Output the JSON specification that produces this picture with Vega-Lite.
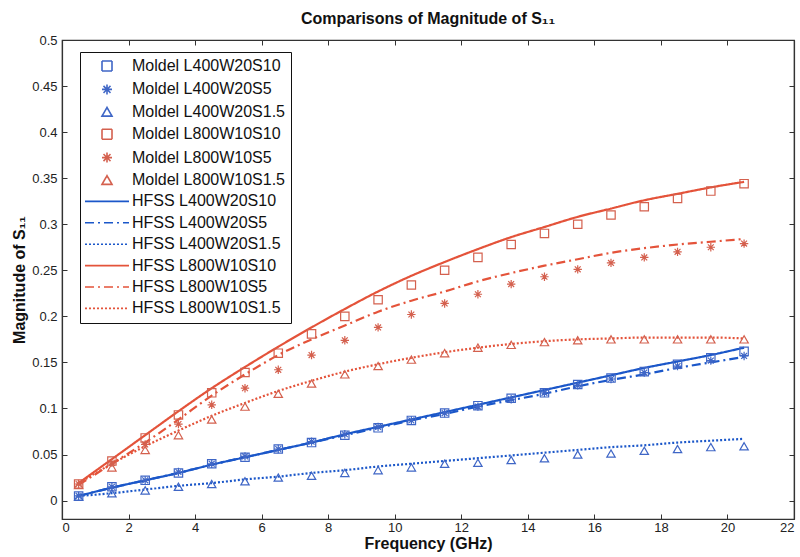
{
  "$schema": "https://vega.github.io/schema/vega-lite/v6.json",
  "width": 732,
  "height": 479,
  "autosize": "none",
  "padding": {"left": 62, "top": 40, "right": 6, "bottom": 38},
  "background": "white",
  "title": {
    "text": "Comparisons of Magnitude of S₁₁",
    "font": "Liberation Sans",
    "fontSize": 16,
    "fontWeight": "bold",
    "color": "#111",
    "offset": 7
  },
  "config": {
    "view": {"stroke": "#333", "strokeWidth": 1.2},
    "axis": {
      "grid": false,
      "labelFont": "Liberation Sans",
      "labelFontSize": 13,
      "labelColor": "#222",
      "titleFont": "Liberation Sans",
      "titleFontSize": 16,
      "titleFontWeight": "bold",
      "titleColor": "#111",
      "domainColor": "#333",
      "tickColor": "#333",
      "tickSize": -5,
      "domainWidth": 1.2
    },
    "legend": {
      "orient": "none",
      "legendX": 18,
      "legendY": 12,
      "fillColor": "white",
      "strokeColor": "#111",
      "padding": 6,
      "labelFont": "Liberation Sans",
      "labelFontSize": 16,
      "labelColor": "#111",
      "labelLimit": 300,
      "symbolOffset": 13,
      "labelOffset": 17,
      "rowPadding": 5.4,
      "symbolStrokeWidth": 1.6
    }
  },
  "datasets": {
    "model": [
      {"s": "Moldel L400W20S10", "f": 0.5, "v": 0.005}, {"s": "Moldel L400W20S10", "f": 1.5, "v": 0.015}, {"s": "Moldel L400W20S10", "f": 2.5, "v": 0.022}, {"s": "Moldel L400W20S10", "f": 3.5, "v": 0.030}, {"s": "Moldel L400W20S10", "f": 4.5, "v": 0.040}, {"s": "Moldel L400W20S10", "f": 5.5, "v": 0.047}, {"s": "Moldel L400W20S10", "f": 6.5, "v": 0.056}, {"s": "Moldel L400W20S10", "f": 7.5, "v": 0.063}, {"s": "Moldel L400W20S10", "f": 8.5, "v": 0.071}, {"s": "Moldel L400W20S10", "f": 9.5, "v": 0.079}, {"s": "Moldel L400W20S10", "f": 10.5, "v": 0.087}, {"s": "Moldel L400W20S10", "f": 11.5, "v": 0.095}, {"s": "Moldel L400W20S10", "f": 12.5, "v": 0.103}, {"s": "Moldel L400W20S10", "f": 13.5, "v": 0.111}, {"s": "Moldel L400W20S10", "f": 14.5, "v": 0.117}, {"s": "Moldel L400W20S10", "f": 15.5, "v": 0.126}, {"s": "Moldel L400W20S10", "f": 16.5, "v": 0.133}, {"s": "Moldel L400W20S10", "f": 17.5, "v": 0.140}, {"s": "Moldel L400W20S10", "f": 18.5, "v": 0.148}, {"s": "Moldel L400W20S10", "f": 19.5, "v": 0.155}, {"s": "Moldel L400W20S10", "f": 20.5, "v": 0.162},
      {"s": "Moldel L400W20S5", "f": 0.5, "v": 0.005}, {"s": "Moldel L400W20S5", "f": 1.5, "v": 0.015}, {"s": "Moldel L400W20S5", "f": 2.5, "v": 0.022}, {"s": "Moldel L400W20S5", "f": 3.5, "v": 0.031}, {"s": "Moldel L400W20S5", "f": 4.5, "v": 0.040}, {"s": "Moldel L400W20S5", "f": 5.5, "v": 0.048}, {"s": "Moldel L400W20S5", "f": 6.5, "v": 0.056}, {"s": "Moldel L400W20S5", "f": 7.5, "v": 0.064}, {"s": "Moldel L400W20S5", "f": 8.5, "v": 0.072}, {"s": "Moldel L400W20S5", "f": 9.5, "v": 0.080}, {"s": "Moldel L400W20S5", "f": 10.5, "v": 0.087}, {"s": "Moldel L400W20S5", "f": 11.5, "v": 0.095}, {"s": "Moldel L400W20S5", "f": 12.5, "v": 0.102}, {"s": "Moldel L400W20S5", "f": 13.5, "v": 0.110}, {"s": "Moldel L400W20S5", "f": 14.5, "v": 0.117}, {"s": "Moldel L400W20S5", "f": 15.5, "v": 0.125}, {"s": "Moldel L400W20S5", "f": 16.5, "v": 0.132}, {"s": "Moldel L400W20S5", "f": 17.5, "v": 0.139}, {"s": "Moldel L400W20S5", "f": 18.5, "v": 0.146}, {"s": "Moldel L400W20S5", "f": 19.5, "v": 0.152}, {"s": "Moldel L400W20S5", "f": 20.5, "v": 0.157},
      {"s": "Moldel L400W20S1.5", "f": 0.5, "v": 0.004}, {"s": "Moldel L400W20S1.5", "f": 1.5, "v": 0.008}, {"s": "Moldel L400W20S1.5", "f": 2.5, "v": 0.011}, {"s": "Moldel L400W20S1.5", "f": 3.5, "v": 0.015}, {"s": "Moldel L400W20S1.5", "f": 4.5, "v": 0.018}, {"s": "Moldel L400W20S1.5", "f": 5.5, "v": 0.021}, {"s": "Moldel L400W20S1.5", "f": 6.5, "v": 0.025}, {"s": "Moldel L400W20S1.5", "f": 7.5, "v": 0.027}, {"s": "Moldel L400W20S1.5", "f": 8.5, "v": 0.030}, {"s": "Moldel L400W20S1.5", "f": 9.5, "v": 0.033}, {"s": "Moldel L400W20S1.5", "f": 10.5, "v": 0.036}, {"s": "Moldel L400W20S1.5", "f": 11.5, "v": 0.040}, {"s": "Moldel L400W20S1.5", "f": 12.5, "v": 0.041}, {"s": "Moldel L400W20S1.5", "f": 13.5, "v": 0.044}, {"s": "Moldel L400W20S1.5", "f": 14.5, "v": 0.046}, {"s": "Moldel L400W20S1.5", "f": 15.5, "v": 0.050}, {"s": "Moldel L400W20S1.5", "f": 16.5, "v": 0.051}, {"s": "Moldel L400W20S1.5", "f": 17.5, "v": 0.054}, {"s": "Moldel L400W20S1.5", "f": 18.5, "v": 0.056}, {"s": "Moldel L400W20S1.5", "f": 19.5, "v": 0.058}, {"s": "Moldel L400W20S1.5", "f": 20.5, "v": 0.059},
      {"s": "Moldel L800W10S10", "f": 0.5, "v": 0.018}, {"s": "Moldel L800W10S10", "f": 1.5, "v": 0.043}, {"s": "Moldel L800W10S10", "f": 2.5, "v": 0.068}, {"s": "Moldel L800W10S10", "f": 3.5, "v": 0.093}, {"s": "Moldel L800W10S10", "f": 4.5, "v": 0.117}, {"s": "Moldel L800W10S10", "f": 5.5, "v": 0.139}, {"s": "Moldel L800W10S10", "f": 6.5, "v": 0.160}, {"s": "Moldel L800W10S10", "f": 7.5, "v": 0.181}, {"s": "Moldel L800W10S10", "f": 8.5, "v": 0.200}, {"s": "Moldel L800W10S10", "f": 9.5, "v": 0.218}, {"s": "Moldel L800W10S10", "f": 10.5, "v": 0.234}, {"s": "Moldel L800W10S10", "f": 11.5, "v": 0.250}, {"s": "Moldel L800W10S10", "f": 12.5, "v": 0.264}, {"s": "Moldel L800W10S10", "f": 13.5, "v": 0.278}, {"s": "Moldel L800W10S10", "f": 14.5, "v": 0.290}, {"s": "Moldel L800W10S10", "f": 15.5, "v": 0.300}, {"s": "Moldel L800W10S10", "f": 16.5, "v": 0.310}, {"s": "Moldel L800W10S10", "f": 17.5, "v": 0.319}, {"s": "Moldel L800W10S10", "f": 18.5, "v": 0.328}, {"s": "Moldel L800W10S10", "f": 19.5, "v": 0.336}, {"s": "Moldel L800W10S10", "f": 20.5, "v": 0.344},
      {"s": "Moldel L800W10S5", "f": 0.5, "v": 0.018}, {"s": "Moldel L800W10S5", "f": 1.5, "v": 0.041}, {"s": "Moldel L800W10S5", "f": 2.5, "v": 0.061}, {"s": "Moldel L800W10S5", "f": 3.5, "v": 0.083}, {"s": "Moldel L800W10S5", "f": 4.5, "v": 0.104}, {"s": "Moldel L800W10S5", "f": 5.5, "v": 0.122}, {"s": "Moldel L800W10S5", "f": 6.5, "v": 0.142}, {"s": "Moldel L800W10S5", "f": 7.5, "v": 0.158}, {"s": "Moldel L800W10S5", "f": 8.5, "v": 0.174}, {"s": "Moldel L800W10S5", "f": 9.5, "v": 0.188}, {"s": "Moldel L800W10S5", "f": 10.5, "v": 0.202}, {"s": "Moldel L800W10S5", "f": 11.5, "v": 0.214}, {"s": "Moldel L800W10S5", "f": 12.5, "v": 0.224}, {"s": "Moldel L800W10S5", "f": 13.5, "v": 0.235}, {"s": "Moldel L800W10S5", "f": 14.5, "v": 0.243}, {"s": "Moldel L800W10S5", "f": 15.5, "v": 0.251}, {"s": "Moldel L800W10S5", "f": 16.5, "v": 0.258}, {"s": "Moldel L800W10S5", "f": 17.5, "v": 0.264}, {"s": "Moldel L800W10S5", "f": 18.5, "v": 0.270}, {"s": "Moldel L800W10S5", "f": 19.5, "v": 0.275}, {"s": "Moldel L800W10S5", "f": 20.5, "v": 0.279},
      {"s": "Moldel L800W10S1.5", "f": 0.5, "v": 0.017}, {"s": "Moldel L800W10S1.5", "f": 1.5, "v": 0.036}, {"s": "Moldel L800W10S1.5", "f": 2.5, "v": 0.055}, {"s": "Moldel L800W10S1.5", "f": 3.5, "v": 0.071}, {"s": "Moldel L800W10S1.5", "f": 4.5, "v": 0.088}, {"s": "Moldel L800W10S1.5", "f": 5.5, "v": 0.102}, {"s": "Moldel L800W10S1.5", "f": 6.5, "v": 0.116}, {"s": "Moldel L800W10S1.5", "f": 7.5, "v": 0.127}, {"s": "Moldel L800W10S1.5", "f": 8.5, "v": 0.137}, {"s": "Moldel L800W10S1.5", "f": 9.5, "v": 0.146}, {"s": "Moldel L800W10S1.5", "f": 10.5, "v": 0.153}, {"s": "Moldel L800W10S1.5", "f": 11.5, "v": 0.160}, {"s": "Moldel L800W10S1.5", "f": 12.5, "v": 0.166}, {"s": "Moldel L800W10S1.5", "f": 13.5, "v": 0.169}, {"s": "Moldel L800W10S1.5", "f": 14.5, "v": 0.172}, {"s": "Moldel L800W10S1.5", "f": 15.5, "v": 0.174}, {"s": "Moldel L800W10S1.5", "f": 16.5, "v": 0.175}, {"s": "Moldel L800W10S1.5", "f": 17.5, "v": 0.175}, {"s": "Moldel L800W10S1.5", "f": 18.5, "v": 0.175}, {"s": "Moldel L800W10S1.5", "f": 19.5, "v": 0.175}, {"s": "Moldel L800W10S1.5", "f": 20.5, "v": 0.175}
    ],
    "hfss": [
      {"s": "HFSS L400W20S10", "f": 0.5, "v": 0.005}, {"s": "HFSS L400W20S10", "f": 1.5, "v": 0.014}, {"s": "HFSS L400W20S10", "f": 2.5, "v": 0.022}, {"s": "HFSS L400W20S10", "f": 3.5, "v": 0.030}, {"s": "HFSS L400W20S10", "f": 4.5, "v": 0.039}, {"s": "HFSS L400W20S10", "f": 5.5, "v": 0.047}, {"s": "HFSS L400W20S10", "f": 6.5, "v": 0.055}, {"s": "HFSS L400W20S10", "f": 7.5, "v": 0.063}, {"s": "HFSS L400W20S10", "f": 8.5, "v": 0.072}, {"s": "HFSS L400W20S10", "f": 9.5, "v": 0.080}, {"s": "HFSS L400W20S10", "f": 10.5, "v": 0.088}, {"s": "HFSS L400W20S10", "f": 11.5, "v": 0.096}, {"s": "HFSS L400W20S10", "f": 12.5, "v": 0.104}, {"s": "HFSS L400W20S10", "f": 13.5, "v": 0.112}, {"s": "HFSS L400W20S10", "f": 14.5, "v": 0.120}, {"s": "HFSS L400W20S10", "f": 15.5, "v": 0.128}, {"s": "HFSS L400W20S10", "f": 16.5, "v": 0.136}, {"s": "HFSS L400W20S10", "f": 17.5, "v": 0.144}, {"s": "HFSS L400W20S10", "f": 18.5, "v": 0.151}, {"s": "HFSS L400W20S10", "f": 19.5, "v": 0.158}, {"s": "HFSS L400W20S10", "f": 20.5, "v": 0.166},
      {"s": "HFSS L400W20S5", "f": 0.5, "v": 0.005}, {"s": "HFSS L400W20S5", "f": 1.5, "v": 0.014}, {"s": "HFSS L400W20S5", "f": 2.5, "v": 0.022}, {"s": "HFSS L400W20S5", "f": 3.5, "v": 0.030}, {"s": "HFSS L400W20S5", "f": 4.5, "v": 0.039}, {"s": "HFSS L400W20S5", "f": 5.5, "v": 0.047}, {"s": "HFSS L400W20S5", "f": 6.5, "v": 0.055}, {"s": "HFSS L400W20S5", "f": 7.5, "v": 0.063}, {"s": "HFSS L400W20S5", "f": 8.5, "v": 0.071}, {"s": "HFSS L400W20S5", "f": 9.5, "v": 0.079}, {"s": "HFSS L400W20S5", "f": 10.5, "v": 0.087}, {"s": "HFSS L400W20S5", "f": 11.5, "v": 0.094}, {"s": "HFSS L400W20S5", "f": 12.5, "v": 0.102}, {"s": "HFSS L400W20S5", "f": 13.5, "v": 0.109}, {"s": "HFSS L400W20S5", "f": 14.5, "v": 0.116}, {"s": "HFSS L400W20S5", "f": 15.5, "v": 0.124}, {"s": "HFSS L400W20S5", "f": 16.5, "v": 0.131}, {"s": "HFSS L400W20S5", "f": 17.5, "v": 0.137}, {"s": "HFSS L400W20S5", "f": 18.5, "v": 0.144}, {"s": "HFSS L400W20S5", "f": 19.5, "v": 0.150}, {"s": "HFSS L400W20S5", "f": 20.5, "v": 0.156},
      {"s": "HFSS L400W20S1.5", "f": 0.5, "v": 0.005}, {"s": "HFSS L400W20S1.5", "f": 1.5, "v": 0.008}, {"s": "HFSS L400W20S1.5", "f": 2.5, "v": 0.012}, {"s": "HFSS L400W20S1.5", "f": 3.5, "v": 0.016}, {"s": "HFSS L400W20S1.5", "f": 4.5, "v": 0.019}, {"s": "HFSS L400W20S1.5", "f": 5.5, "v": 0.023}, {"s": "HFSS L400W20S1.5", "f": 6.5, "v": 0.026}, {"s": "HFSS L400W20S1.5", "f": 7.5, "v": 0.030}, {"s": "HFSS L400W20S1.5", "f": 8.5, "v": 0.033}, {"s": "HFSS L400W20S1.5", "f": 9.5, "v": 0.037}, {"s": "HFSS L400W20S1.5", "f": 10.5, "v": 0.040}, {"s": "HFSS L400W20S1.5", "f": 11.5, "v": 0.043}, {"s": "HFSS L400W20S1.5", "f": 12.5, "v": 0.046}, {"s": "HFSS L400W20S1.5", "f": 13.5, "v": 0.049}, {"s": "HFSS L400W20S1.5", "f": 14.5, "v": 0.052}, {"s": "HFSS L400W20S1.5", "f": 15.5, "v": 0.055}, {"s": "HFSS L400W20S1.5", "f": 16.5, "v": 0.058}, {"s": "HFSS L400W20S1.5", "f": 17.5, "v": 0.060}, {"s": "HFSS L400W20S1.5", "f": 18.5, "v": 0.063}, {"s": "HFSS L400W20S1.5", "f": 19.5, "v": 0.065}, {"s": "HFSS L400W20S1.5", "f": 20.5, "v": 0.067},
      {"s": "HFSS L800W10S10", "f": 0.5, "v": 0.019}, {"s": "HFSS L800W10S10", "f": 1.5, "v": 0.045}, {"s": "HFSS L800W10S10", "f": 2.5, "v": 0.071}, {"s": "HFSS L800W10S10", "f": 3.5, "v": 0.097}, {"s": "HFSS L800W10S10", "f": 4.5, "v": 0.122}, {"s": "HFSS L800W10S10", "f": 5.5, "v": 0.145}, {"s": "HFSS L800W10S10", "f": 6.5, "v": 0.167}, {"s": "HFSS L800W10S10", "f": 7.5, "v": 0.188}, {"s": "HFSS L800W10S10", "f": 8.5, "v": 0.208}, {"s": "HFSS L800W10S10", "f": 9.5, "v": 0.227}, {"s": "HFSS L800W10S10", "f": 10.5, "v": 0.244}, {"s": "HFSS L800W10S10", "f": 11.5, "v": 0.259}, {"s": "HFSS L800W10S10", "f": 12.5, "v": 0.273}, {"s": "HFSS L800W10S10", "f": 13.5, "v": 0.286}, {"s": "HFSS L800W10S10", "f": 14.5, "v": 0.297}, {"s": "HFSS L800W10S10", "f": 15.5, "v": 0.308}, {"s": "HFSS L800W10S10", "f": 16.5, "v": 0.317}, {"s": "HFSS L800W10S10", "f": 17.5, "v": 0.326}, {"s": "HFSS L800W10S10", "f": 18.5, "v": 0.333}, {"s": "HFSS L800W10S10", "f": 19.5, "v": 0.340}, {"s": "HFSS L800W10S10", "f": 20.5, "v": 0.346},
      {"s": "HFSS L800W10S5", "f": 0.5, "v": 0.017}, {"s": "HFSS L800W10S5", "f": 1.5, "v": 0.040}, {"s": "HFSS L800W10S5", "f": 2.5, "v": 0.063}, {"s": "HFSS L800W10S5", "f": 3.5, "v": 0.088}, {"s": "HFSS L800W10S5", "f": 4.5, "v": 0.114}, {"s": "HFSS L800W10S5", "f": 5.5, "v": 0.137}, {"s": "HFSS L800W10S5", "f": 6.5, "v": 0.158}, {"s": "HFSS L800W10S5", "f": 7.5, "v": 0.175}, {"s": "HFSS L800W10S5", "f": 8.5, "v": 0.190}, {"s": "HFSS L800W10S5", "f": 9.5, "v": 0.205}, {"s": "HFSS L800W10S5", "f": 10.5, "v": 0.217}, {"s": "HFSS L800W10S5", "f": 11.5, "v": 0.227}, {"s": "HFSS L800W10S5", "f": 12.5, "v": 0.238}, {"s": "HFSS L800W10S5", "f": 13.5, "v": 0.247}, {"s": "HFSS L800W10S5", "f": 14.5, "v": 0.255}, {"s": "HFSS L800W10S5", "f": 15.5, "v": 0.262}, {"s": "HFSS L800W10S5", "f": 16.5, "v": 0.269}, {"s": "HFSS L800W10S5", "f": 17.5, "v": 0.274}, {"s": "HFSS L800W10S5", "f": 18.5, "v": 0.278}, {"s": "HFSS L800W10S5", "f": 19.5, "v": 0.281}, {"s": "HFSS L800W10S5", "f": 20.5, "v": 0.284},
      {"s": "HFSS L800W10S1.5", "f": 0.5, "v": 0.019}, {"s": "HFSS L800W10S1.5", "f": 1.5, "v": 0.040}, {"s": "HFSS L800W10S1.5", "f": 2.5, "v": 0.059}, {"s": "HFSS L800W10S1.5", "f": 3.5, "v": 0.076}, {"s": "HFSS L800W10S1.5", "f": 4.5, "v": 0.092}, {"s": "HFSS L800W10S1.5", "f": 5.5, "v": 0.106}, {"s": "HFSS L800W10S1.5", "f": 6.5, "v": 0.119}, {"s": "HFSS L800W10S1.5", "f": 7.5, "v": 0.130}, {"s": "HFSS L800W10S1.5", "f": 8.5, "v": 0.140}, {"s": "HFSS L800W10S1.5", "f": 9.5, "v": 0.148}, {"s": "HFSS L800W10S1.5", "f": 10.5, "v": 0.155}, {"s": "HFSS L800W10S1.5", "f": 11.5, "v": 0.161}, {"s": "HFSS L800W10S1.5", "f": 12.5, "v": 0.166}, {"s": "HFSS L800W10S1.5", "f": 13.5, "v": 0.170}, {"s": "HFSS L800W10S1.5", "f": 14.5, "v": 0.173}, {"s": "HFSS L800W10S1.5", "f": 15.5, "v": 0.175}, {"s": "HFSS L800W10S1.5", "f": 16.5, "v": 0.176}, {"s": "HFSS L800W10S1.5", "f": 17.5, "v": 0.177}, {"s": "HFSS L800W10S1.5", "f": 18.5, "v": 0.177}, {"s": "HFSS L800W10S1.5", "f": 19.5, "v": 0.177}, {"s": "HFSS L800W10S1.5", "f": 20.5, "v": 0.176}
    ]
  },
  "layer": [
    {
      "data": {"name": "hfss"},
      "mark": {"type": "line", "interpolate": "monotone", "strokeWidth": 2.2},
      "encoding": {
        "x": {"field": "f", "type": "quantitative", "scale": {"domain": [0, 22], "nice": false, "zero": false},
              "axis": {"orient": "bottom", "values": [0, 2, 4, 6, 8, 10, 12, 14, 16, 18, 20, 22], "title": "Frequency (GHz)", "labelPadding": 7, "titlePadding": 1}},
        "y": {"field": "v", "type": "quantitative", "scale": {"domain": [-0.02, 0.5], "nice": false, "zero": false},
              "axis": {"orient": "left", "values": [0, 0.05, 0.1, 0.15, 0.2, 0.25, 0.3, 0.35, 0.4, 0.45, 0.5], "format": ".2~f", "title": "Magnitude of S₁₁", "labelPadding": 10, "titlePadding": 4}},
        "color": {"field": "s", "type": "nominal", "sort": null,
          "scale": {"domain": ["Moldel L400W20S10", "Moldel L400W20S5", "Moldel L400W20S1.5", "Moldel L800W10S10", "Moldel L800W10S5", "Moldel L800W10S1.5", "HFSS L400W20S10", "HFSS L400W20S5", "HFSS L400W20S1.5", "HFSS L800W10S10", "HFSS L800W10S5", "HFSS L800W10S1.5"],
                    "range": ["#3f66c6", "#3f66c6", "#3f66c6", "#d4604e", "#d4604e", "#d4604e", "#1b57c9", "#1b57c9", "#1b57c9", "#e4533a", "#e4533a", "#e4533a"]},
          "legend": {"title": null}},
        "strokeDash": {"field": "s", "type": "nominal", "sort": null,
          "scale": {"domain": ["Moldel L400W20S10", "Moldel L400W20S5", "Moldel L400W20S1.5", "Moldel L800W10S10", "Moldel L800W10S5", "Moldel L800W10S1.5", "HFSS L400W20S10", "HFSS L400W20S5", "HFSS L400W20S1.5", "HFSS L800W10S10", "HFSS L800W10S5", "HFSS L800W10S1.5"],
                    "range": [[1, 0], [1, 0], [1, 0], [1, 0], [1, 0], [1, 0], [1, 0], [9, 4, 2, 4], [2, 2], [1, 0], [9, 4, 2, 4], [2, 2]]},
          "legend": {"title": null}}
      }
    },
    {
      "data": {"name": "model"},
      "mark": {"type": "point", "filled": false, "opacity": 1, "strokeWidth": 1.2, "size": 70},
      "encoding": {
        "x": {"field": "f", "type": "quantitative", "scale": {"domain": [0, 22], "nice": false, "zero": false},
              "axis": {"orient": "top", "values": [0, 2, 4, 6, 8, 10, 12, 14, 16, 18, 20, 22], "labels": false, "title": null}},
        "y": {"field": "v", "type": "quantitative", "scale": {"domain": [-0.02, 0.5], "nice": false, "zero": false},
              "axis": {"orient": "right", "values": [0, 0.05, 0.1, 0.15, 0.2, 0.25, 0.3, 0.35, 0.4, 0.45, 0.5], "labels": false, "title": null}},
        "color": {"field": "s", "type": "nominal", "sort": null, "legend": {"title": null}},
        "shape": {"field": "s", "type": "nominal", "sort": null,
          "scale": {"domain": ["Moldel L400W20S10", "Moldel L400W20S5", "Moldel L400W20S1.5", "Moldel L800W10S10", "Moldel L800W10S5", "Moldel L800W10S1.5", "HFSS L400W20S10", "HFSS L400W20S5", "HFSS L400W20S1.5", "HFSS L800W10S10", "HFSS L800W10S5", "HFSS L800W10S1.5"],
                    "range": ["square", "M0,-1L0,1M-1,0L1,0M-0.7,-0.7L0.7,0.7M-0.7,0.7L0.7,-0.7", "triangle-up", "square", "M0,-1L0,1M-1,0L1,0M-0.7,-0.7L0.7,0.7M-0.7,0.7L0.7,-0.7", "triangle-up", "M-4.4,0L4.4,0", "M-4.4,0L4.4,0", "M-4.4,0L4.4,0", "M-4.4,0L4.4,0", "M-4.4,0L4.4,0", "M-4.4,0L4.4,0"]},
          "legend": {"title": null}}
      }
    }
  ],
  "resolve": {"axis": {"x": "independent", "y": "independent"}}
}
